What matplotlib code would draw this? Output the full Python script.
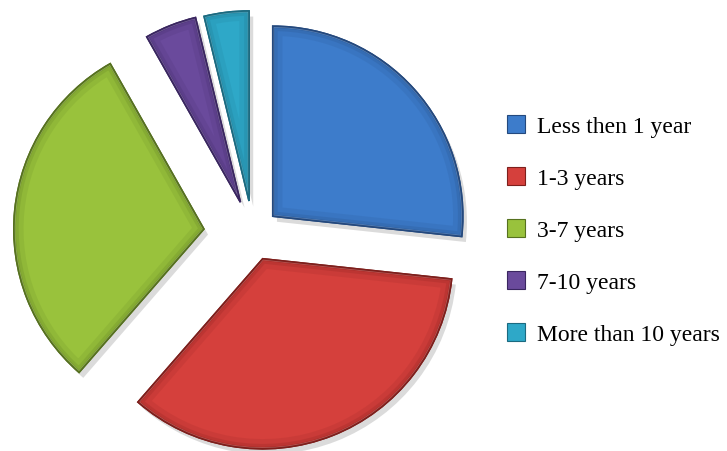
import matplotlib
matplotlib.use("Agg")
import matplotlib.pyplot as plt
import matplotlib.patheffects as pe
from matplotlib.patches import Wedge

labels = ["Less then 1 year", "1-3 years", "3-7 years", "7-10 years", "More than 10 years"]
values = [26.7, 34.7, 30.4, 4.4, 3.8]
colors = ["#3d7ccb", "#d5403c", "#99c23c", "#6a4a9c", "#2ea8c8"]
edges = ["#24497e", "#7e1f1c", "#56711f", "#3a2660", "#1b6a80"]
explode = [0.14, 0.14, 0.26, 0.18, 0.175]

W, H = 727, 452
R = 190.0          # pie radius in pixels
cx, cy = 253.0, 235.0  # pie centre in pixels (from top-left)

fig = plt.figure(figsize=(W / 100, H / 100), dpi=100)
ax = fig.add_axes([0, 0, 1, 1])

wedges, _ = ax.pie(values, colors=colors, explode=explode, startangle=90,
                   counterclock=False, radius=1.0,
                   wedgeprops=dict(linewidth=1.2))
for w, ec in zip(wedges, edges):
    w.set_edgecolor(ec)
    w.set_path_effects([pe.SimplePatchShadow(offset=(3, -4), shadow_rgbFace="#999999", alpha=0.35),
                        pe.Normal()])
    # bevel-like inner darkening along the edges
    for lw, a in [(14, 0.12), (7, 0.18), (3, 0.25)]:
        b = Wedge(w.center, w.r, w.theta1, w.theta2, facecolor="none",
                  edgecolor=ec, linewidth=lw, alpha=a, zorder=w.get_zorder() + 0.1)
        ax.add_patch(b)
        b.set_clip_path(w)
    # light highlight near the edge
    hl = Wedge(w.center, w.r, w.theta1, w.theta2, facecolor="none",
               edgecolor="white", linewidth=2, alpha=0.25, zorder=w.get_zorder() + 0.2)
    ax.add_patch(hl)
    hl.set_clip_path(w)
    outline = Wedge(w.center, w.r, w.theta1, w.theta2, facecolor="none",
                    edgecolor=ec, linewidth=1.2, zorder=w.get_zorder() + 0.3)
    ax.add_patch(outline)

ax.set_xlim(-cx / R, (W - cx) / R)
ax.set_ylim(-(H - cy) / R, cy / R)
ax.set_aspect("equal")
ax.axis("off")

handles = [plt.Rectangle((0, 0), 1, 1, facecolor=c, edgecolor=e, linewidth=0.8)
           for c, e in zip(colors, edges)]
leg = fig.legend(handles, labels, loc="center left",
                 bbox_to_anchor=(507 / W, 1 - 231 / H),
                 frameon=False, borderpad=0, borderaxespad=0,
                 prop=dict(family="Liberation Serif", size=17),
                 handlelength=0.78, handleheight=0.78, handletextpad=0.5,
                 labelspacing=1.27)

fig.savefig("out.png", dpi=100)
